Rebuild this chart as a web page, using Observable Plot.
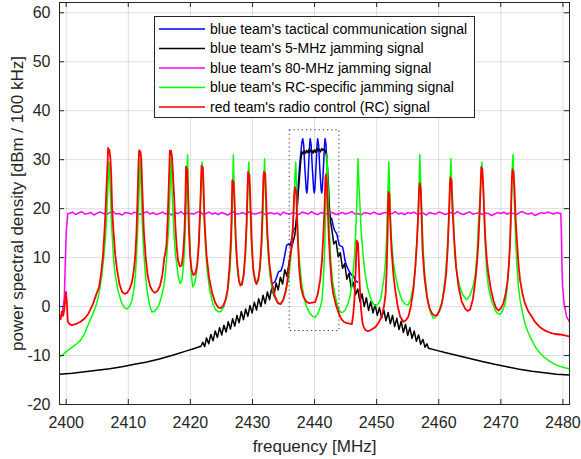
<!DOCTYPE html>
<html>
<head>
<meta charset="utf-8">
<script src="https://cdn.jsdelivr.net/npm/d3@7"></script>
<script src="https://cdn.jsdelivr.net/npm/@observablehq/plot@0.6"></script>
<style>
  html, body { margin: 0; padding: 0; background: white; }
</style>
</head>
<body>
<script>
// ---------- data (frequency MHz, PSD dBm/100kHz) ----------
const xTicks = [2400, 2410, 2420, 2430, 2440, 2450, 2460, 2470, 2480];
const yTicks = [-20, -10, 0, 10, 20, 30, 40, 50, 60];

const legendLabels = [
  "blue team's tactical communication signal",
  "blue team's 5-MHz jamming signal",
  "blue team's 80-MHz jamming signal",
  "blue team's RC-specific jamming signal",
  "red team's radio control (RC) signal"
];
const seriesColors = ["#0000ff", "#000000", "#ff00ff", "#00ff00", "#ff0000"];

const tacticalSignal = [[2433.3,4.8],[2433.6,5.0],[2433.9,6.0],[2434.2,7.1],[2434.6,7.3],[2434.9,8.5],[2435.2,10.5],[2435.5,12.5],[2435.8,12.8],[2436.1,12.4],[2436.4,14.5],[2436.6,15.8],[2436.9,16.0],[2437.1,18],[2437.35,24.4],[2437.6,29],[2437.8,31.5],[2437.95,33.5],[2438.1,34.3],[2438.25,33],[2438.45,28],[2438.65,24],[2438.75,23.2],[2438.85,24],[2439.05,29],[2439.2,33],[2439.3,34.3],[2439.45,33],[2439.65,28],[2439.85,24],[2439.95,23.2],[2440.05,24],[2440.25,29],[2440.4,33],[2440.5,34.3],[2440.65,33],[2440.85,28],[2441.05,24],[2441.15,23.2],[2441.25,24],[2441.45,29],[2441.6,33],[2441.7,34.3],[2441.85,33],[2442.0,28],[2442.15,23],[2442.3,20],[2442.5,18.3],[2442.75,18.0],[2443.0,16.5],[2443.2,15.6],[2443.6,14.8],[2443.8,13.5],[2444.0,12.5],[2444.5,12.2],[2444.7,11],[2444.9,9.4],[2445.2,8.2],[2445.5,7.4],[2446.0,6.4],[2446.3,6.2],[2446.5,5.4],[2446.9,5.0]];

const jam5Signal = [[2398.92,-13.8],[2401,-13.6],[2403,-13.3],[2405,-13.0],[2407,-12.7],[2409,-12.3],[2411,-11.8],[2413,-11.3],[2415,-10.7],[2417,-10.0],[2419,-9.2],[2420.5,-8.6],[2421.7,-8.1],
[2422.0,-7.3],[2422.3,-8.2],[2422.6,-6.4],[2422.95,-7.6],[2423.3,-5.7],[2423.65,-7.0],[2424.0,-5.0],[2424.35,-6.3],[2424.7,-4.3],[2425.05,-5.8],[2425.4,-3.8],[2425.75,-5.2],[2426.1,-3.1],[2426.45,-4.6],[2426.8,-2.5],[2427.15,-4.0],[2427.5,-1.8],[2427.85,-3.3],[2428.2,-1.0],[2428.55,-2.7],[2428.9,-0.5],[2429.25,-2.0],[2429.6,0.2],[2429.95,-1.3],[2430.3,0.9],[2430.65,-0.7],[2431.0,1.6],[2431.35,0.0],[2431.7,2.3],[2432.05,0.6],[2432.4,3.0],[2432.75,1.4],[2433.1,3.8],[2433.45,2.2],[2433.8,4.8],[2434.15,3.4],[2434.5,6.0],[2434.85,4.6],[2435.2,7.5],[2435.55,6.2],[2435.9,9.0],
[2436.2,11.5],[2436.5,13],[2436.8,14.5],[2437.05,17],[2437.3,22],[2437.55,26],[2437.75,29.5],[2437.95,31.6],
[2438.15,31.2],[2438.35,31.8],[2438.55,31.3],[2438.75,31.9],[2438.95,31.4],[2439.15,32.2],[2439.35,31.6],[2439.55,31.9],[2439.75,31.3],[2439.95,32.0],[2440.15,31.5],[2440.35,32.3],[2440.55,31.8],[2440.75,32.1],[2440.95,31.6],[2441.15,32.3],[2441.35,31.9],[2441.55,32.2],[2441.75,31.7],[2441.95,30.9],[2442.1,28],[2442.25,24.4],[2442.4,20],[2442.55,17.6],[2442.8,15.6],
[2443.1,12.8],[2443.45,13.4],[2443.8,10.2],[2444.15,11.0],[2444.5,7.8],[2444.85,8.8],[2445.2,5.6],[2445.55,6.8],[2445.9,3.8],[2446.25,5.0],[2446.6,2.4],[2446.95,3.6],[2447.3,1.0],[2447.65,2.6],[2448.0,0.0],[2448.35,1.8],[2448.7,-0.8],[2449.05,1.0],[2449.4,-1.3],[2449.75,0.4],[2450.1,-1.8],[2450.45,-0.2],[2450.8,-2.3],[2451.15,-0.7],[2451.5,-2.9],[2451.85,-1.2],[2452.2,-3.5],[2452.55,-1.8],[2452.9,-4.1],[2453.25,-2.4],[2453.6,-4.7],[2453.95,-3.0],[2454.3,-5.3],[2454.65,-3.6],[2455.0,-5.9],[2455.35,-4.3],[2455.7,-6.5],[2456.05,-5.0],[2456.4,-7.1],[2456.75,-5.8],[2457.1,-7.7],[2457.45,-6.7],[2457.8,-8.3],[2458.1,-7.6],[2458.35,-8.5],
[2459.5,-8.9],[2461,-9.4],[2463,-10.0],[2465,-10.6],[2467,-11.2],[2469,-11.8],[2471,-12.3],[2473,-12.8],[2475,-13.2],[2477,-13.5],[2479,-13.8],[2481.06,-14.0]];

// 80-MHz jammer: rising edge, flat noisy top sampled every 0.5 MHz from 2400.5 MHz, falling edge
const jam80Rise = [[2398.92,-2.5],[2399.4,-1.2],[2399.7,2],[2399.85,9],[2400.0,15],[2400.25,19.0]];
const jam80TopStart = 2400.5, jam80TopStep = 0.5;
const jam80Top = [19.0,19.3,18.8,19.1,19.4,18.9,19.0,19.2,18.7,19.1,
19.3,19.0,18.8,19.2,19.5,18.9,19.0,18.7,19.2,19.1,
18.9,19.3,19.0,18.8,19.1,19.4,18.9,19.2,18.8,19.0,
19.3,18.9,19.1,18.7,19.2,19.0,19.4,18.8,19.1,19.0,
18.9,19.2,19.5,18.8,19.0,19.3,18.9,19.1,18.8,19.2,
19.0,18.7,19.1,19.3,18.9,19.0,19.2,18.8,19.4,19.0,
18.9,19.1,19.3,18.8,19.0,19.2,18.9,19.1,18.7,19.3,
19.0,18.9,19.2,19.0,18.8,19.3,19.1,18.9,19.4,19.0,
18.8,19.2,19.0,18.9,19.3,19.1,18.8,19.0,19.2,18.9,
19.1,19.4,18.9,19.0,18.7,19.2,19.1,18.9,19.3,19.0,
18.8,19.1,19.2,18.9,19.0,19.4,18.9,19.1,18.8,19.2,
19.0,19.3,18.9,19.0,19.1,18.7,19.2,19.0,18.9,19.3,
19.1,18.8,19.0,19.2,18.9,19.4,19.0,18.8,19.1,19.3,
18.9,19.0,19.2,18.8,19.1,19.0,18.6,18.9,19.2,19.0,
19.3,18.9,19.1,19.0,18.8,19.2,19.4,19.0,18.9,19.1,
18.6,18.9,19.2,19.0,19.3,19.1,18.9,19.2,19.0];
const jam80Fall = [[2479.65,19.1],[2479.75,15],[2479.85,8],[2479.95,4],[2480.2,0.5],[2480.6,-2.1],[2481.06,-3.1]];

const rcJamSignal = [[2398.92,-10.3],[2399.5,-9.8],[2400.2,-9.0],[2401.0,-8.3],[2401.7,-7.6],[2402.3,-6.9],[2403.0,-5.4],[2403.6,-3.5],[2404.3,-1.5],[2404.9,0.6],[2405.3,2.8],[2405.7,6],[2406.0,9.5],[2406.3,13.5],[2406.5,18],[2406.65,22.4],[2406.8,27],[2406.9,29.5],[2407.0,27],[2407.15,22],[2407.3,17],[2407.6,10.1],[2407.9,6.3],[2408.4,3.0],[2408.9,0.8],[2409.4,-0.2],[2409.8,-0.5],[2410.2,0],[2410.6,1.3],[2410.9,3.5],[2411.15,6.5],[2411.35,11],[2411.55,17],[2411.75,24],[2411.9,30.2],[2412.05,25],[2412.2,19],[2412.4,13],[2412.7,7.4],[2413.0,3.5],[2413.4,0.5],[2413.8,-1.1],[2414.2,-1.0],[2414.6,-0.4],[2414.9,0.2],[2415.3,1.8],[2415.7,4],[2416.0,7],[2416.25,11.5],[2416.5,16],[2416.7,23],[2416.9,30.5],[2417.05,24],[2417.2,19],[2417.4,14],[2417.6,10.5],[2417.8,8.8],[2418.05,6],[2418.35,4.7],[2418.65,5.5],[2418.9,8.5],[2419.1,13],[2419.3,20],[2419.45,27],[2419.55,31.0],[2419.65,25],[2419.8,17],[2420.0,10],[2420.2,5.8],[2420.4,4.0],[2420.7,4.8],[2421.0,7],[2421.25,11],[2421.45,16],[2421.65,22],[2421.8,27],[2421.9,29.5],[2422.0,26],[2422.15,20],[2422.4,13],[2422.7,7.5],[2423.1,3.5],[2423.6,0.6],[2424.1,-0.7],[2424.6,-1.1],[2425.0,-0.9],[2425.4,0],[2425.8,1.8],[2426.1,4],[2426.4,8],[2426.6,13],[2426.75,20],[2426.85,27],[2426.92,31.0],[2427.0,27],[2427.15,19],[2427.35,12],[2427.6,7],[2427.9,4.7],[2428.2,4.5],[2428.5,6],[2428.8,9.5],[2429.0,14],[2429.2,21],[2429.3,26],[2429.4,29.5],[2429.5,26],[2429.7,18],[2429.9,11],[2430.2,6.8],[2430.6,5.0],[2430.9,5.6],[2431.2,7.5],[2431.45,12],[2431.65,18],[2431.8,24],[2431.95,30.2],[2432.05,26],[2432.2,19],[2432.45,12],[2432.8,6.5],[2433.2,3.5],[2433.7,1.5],[2434.2,0.7],[2434.6,0.6],[2435.0,1.6],[2435.4,3.5],[2435.8,5.4],[2436.1,9],[2436.35,13],[2436.55,17.5],[2436.75,24],[2436.85,27],[2436.97,29.5],[2437.1,24],[2437.25,17.6],[2437.45,11],[2437.7,7.4],[2438.0,4],[2438.4,1.3],[2438.75,-0.1],[2439.2,-1.3],[2439.7,-2.0],[2440.1,-2.2],[2440.5,-1.5],[2440.9,-0.2],[2441.2,1.3],[2441.4,5],[2441.6,10.8],[2441.75,17],[2441.9,24.4],[2442.0,31.2],[2442.1,27],[2442.25,21],[2442.4,15],[2442.6,9.4],[2442.9,5.2],[2443.3,2.3],[2443.7,0.2],[2444.1,-1.1],[2444.5,-1.2],[2444.9,-0.8],[2445.3,0.3],[2445.7,2.0],[2446.0,4.5],[2446.25,7.5],[2446.45,10.5],[2446.65,16],[2446.8,21],[2446.92,26],[2447.0,30.2],[2447.1,26],[2447.3,21],[2447.5,15.5],[2447.8,10.8],[2448.1,7],[2448.5,4],[2449.0,1.8],[2449.4,0.6],[2449.8,0.2],[2450.2,0.5],[2450.6,1.3],[2450.9,3.5],[2451.2,6],[2451.4,8.8],[2451.6,14],[2451.75,21],[2451.88,26],[2451.95,29.5],[2452.05,26],[2452.2,19],[2452.4,13.5],[2452.7,9],[2453.0,6.7],[2453.5,3.5],[2454.1,1.3],[2454.6,0.5],[2455.1,0.3],[2455.5,1.6],[2455.9,4.0],[2456.2,7.5],[2456.5,13.5],[2456.7,19],[2456.85,25],[2456.95,31.0],[2457.05,27],[2457.25,20.3],[2457.45,13],[2457.65,8.1],[2458.0,3.5],[2458.3,0.6],[2458.7,-1.3],[2459.15,-2.4],[2459.6,-2.0],[2460.2,-0.8],[2460.6,1.5],[2461.0,5.4],[2461.3,10],[2461.6,16.9],[2461.8,23],[2461.95,30.2],[2462.1,25],[2462.3,20.3],[2462.6,10.1],[2463.0,6.3],[2463.4,4.0],[2463.9,2.3],[2464.5,1.4],[2465.1,2.5],[2465.6,4.5],[2465.9,6.7],[2466.15,10.5],[2466.4,16.9],[2466.6,21],[2466.8,25.8],[2466.95,29.5],[2467.05,27],[2467.2,23.5],[2467.35,17],[2467.5,12.2],[2467.75,7],[2468.0,4.0],[2468.5,1.2],[2469.1,-0.8],[2469.5,-1.4],[2469.9,-1.6],[2470.3,-0.8],[2470.7,0.6],[2471.0,3.5],[2471.2,6.7],[2471.4,11],[2471.6,16.9],[2471.8,27.1],[2471.97,31.1],[2472.05,27],[2472.2,20.3],[2472.4,13.5],[2472.6,8.1],[2472.85,4],[2473.1,1.3],[2473.5,-1.3],[2473.9,-3.5],[2474.4,-5.3],[2475.0,-6.9],[2475.6,-8.3],[2476.3,-9.5],[2477.1,-10.5],[2477.9,-11.2],[2478.7,-11.8],[2479.5,-12.2],[2480.3,-12.5],[2481.06,-12.7]];

const rcSignal = [[2398.92,-2.2],[2399.1,-2.6],[2399.3,-1.0],[2399.5,-1.9],[2399.7,-0.5],[2399.85,1.5],[2399.95,3.0],[2400.1,1.0],[2400.25,-3.0],[2400.5,-3.5],[2400.9,-3.8],[2401.5,-3.6],[2402.3,-3.1],[2403.0,-2.4],[2403.6,-1.4],[2404.3,0.5],[2404.9,2.7],[2405.3,4.0],[2405.6,6.5],[2405.9,10],[2406.15,15],[2406.35,20],[2406.55,26],[2406.68,30],[2406.75,32.4],[2406.85,31.5],[2406.95,32.0],[2407.1,30.5],[2407.25,27],[2407.4,20],[2407.6,15.6],[2407.9,10.5],[2408.2,7.4],[2408.6,4.5],[2409.0,3.0],[2409.4,2.6],[2409.8,2.8],[2410.2,3.6],[2410.6,5.0],[2410.9,7.5],[2411.1,10.1],[2411.3,14.5],[2411.5,22.4],[2411.65,29.5],[2411.75,31.9],[2411.85,31.0],[2411.95,31.7],[2412.1,30.0],[2412.3,22.4],[2412.5,15.5],[2412.8,10.1],[2413.1,6.5],[2413.5,4.2],[2413.9,3.2],[2414.3,2.8],[2414.7,3.2],[2415.1,4.2],[2415.5,6.5],[2415.8,10.0],[2416.0,11.2],[2416.15,12.5],[2416.35,18],[2416.55,26],[2416.7,31.9],[2416.8,31.0],[2416.9,31.8],[2417.05,30.5],[2417.2,27],[2417.4,22],[2417.6,16],[2417.8,12.2],[2418.0,9.5],[2418.3,8.2],[2418.6,8.4],[2418.85,11],[2419.05,15.5],[2419.2,22],[2419.3,28.6],[2419.4,27.5],[2419.5,28.0],[2419.6,24],[2419.75,16],[2419.95,10.5],[2420.2,7.5],[2420.5,6.4],[2420.8,6.8],[2421.1,8.5],[2421.35,12.5],[2421.55,19],[2421.7,25],[2421.8,28.8],[2421.9,28.0],[2422.0,28.5],[2422.1,25.5],[2422.3,17],[2422.6,10.5],[2423.0,6],[2423.5,2.8],[2424.0,0.8],[2424.5,-0.2],[2424.9,-0.3],[2425.3,0.2],[2425.7,1.5],[2426.0,3.5],[2426.3,8],[2426.5,13],[2426.65,19],[2426.75,25.8],[2426.85,25.0],[2426.95,25.5],[2427.1,22],[2427.3,14],[2427.5,9.5],[2427.8,5.5],[2428.05,4.3],[2428.3,4.5],[2428.6,6.5],[2428.85,11],[2429.05,17],[2429.2,24],[2429.3,27.5],[2429.4,26.5],[2429.5,27.0],[2429.65,22],[2429.85,14],[2430.1,8],[2430.4,5.3],[2430.65,4.6],[2430.95,5.5],[2431.2,8],[2431.45,13],[2431.6,19],[2431.75,26],[2431.85,27.5],[2431.95,26.6],[2432.05,27.2],[2432.2,22],[2432.4,15],[2432.7,9],[2433.1,5],[2433.6,2.2],[2434.1,0.7],[2434.5,0.5],[2434.9,1.2],[2435.3,2.8],[2435.6,5],[2435.95,9],[2436.3,12.2],[2436.55,17],[2436.7,22.4],[2436.85,24.4],[2436.95,23.8],[2437.05,23.5],[2437.2,17],[2437.5,8.1],[2437.8,4],[2438.2,2.0],[2438.7,1.0],[2439.1,0.7],[2439.6,0.8],[2440.1,0.9],[2440.5,2.5],[2440.9,5.4],[2441.2,9.5],[2441.4,14.2],[2441.6,20],[2441.75,26.4],[2441.85,27.0],[2441.95,25.5],[2442.1,21],[2442.3,14],[2442.5,9.4],[2442.75,5],[2443.0,2.7],[2443.4,0.5],[2443.9,-1.4],[2444.3,-2.5],[2444.7,-3.1],[2445.2,-3.4],[2445.7,-3.5],[2446.0,-3.6],[2446.2,-2],[2446.4,1],[2446.55,5],[2446.7,10],[2446.8,13.5],[2446.9,12.6],[2447.0,13.0],[2447.1,10],[2447.25,5],[2447.45,0],[2447.7,-3.2],[2447.95,-4.3],[2448.2,-4.8],[2448.5,-5.0],[2448.9,-4.9],[2449.3,-4.6],[2449.8,-4.2],[2450.3,-3.3],[2450.8,-2.1],[2451.2,0.2],[2451.45,2.7],[2451.6,7],[2451.75,14],[2451.85,21],[2451.9,23.4],[2451.97,22.5],[2452.05,23.0],[2452.2,17],[2452.4,11.5],[2452.7,6.5],[2453.0,3.3],[2453.4,0],[2453.8,-2.1],[2454.3,-3.1],[2454.7,-2.8],[2455.1,-2.1],[2455.5,0],[2455.9,3.3],[2456.2,7.5],[2456.5,13.5],[2456.7,19],[2456.85,24.4],[2456.93,25.2],[2457.0,24.6],[2457.1,24.0],[2457.25,18],[2457.4,11.5],[2457.7,6],[2458.1,2.0],[2458.5,-0.3],[2458.9,-1.4],[2459.3,-1.8],[2459.7,-1.8],[2460.1,-0.8],[2460.5,0.6],[2460.9,3.5],[2461.2,6.7],[2461.45,12],[2461.65,19],[2461.8,25],[2461.87,26.4],[2461.95,25.3],[2462.05,25.8],[2462.2,20],[2462.5,13.5],[2462.8,8],[2463.2,4],[2463.7,1],[2464.25,-0.4],[2464.65,-0.9],[2465.05,-0.6],[2465.5,1.5],[2465.9,5.4],[2466.2,9.5],[2466.4,13.5],[2466.6,19.5],[2466.75,25],[2466.85,28.5],[2466.92,27.5],[2467.0,28.2],[2467.15,25],[2467.3,20],[2467.5,14],[2467.75,9.5],[2468.0,6.7],[2468.4,3.5],[2468.8,1.3],[2469.2,-0.2],[2469.6,-0.8],[2470.0,-0.4],[2470.4,0.6],[2470.8,2.8],[2471.1,5.4],[2471.35,9.5],[2471.5,13.5],[2471.65,20],[2471.78,26],[2471.88,28.0],[2471.95,27.0],[2472.05,27.6],[2472.2,24],[2472.4,17.5],[2472.6,13.5],[2472.85,8.5],[2473.1,5.4],[2473.5,2.5],[2473.9,0.6],[2474.4,-0.9],[2475.0,-2.1],[2475.6,-3.3],[2476.3,-4.2],[2477.1,-4.9],[2477.9,-5.3],[2478.7,-5.6],[2479.5,-5.7],[2480.3,-5.9],[2481.06,-6.1]];

// zoom box around the tactical band
const zoomBoxFreq = [2436, 2444];
const zoomBoxPsd = [-5, 36];

// ---------- build ----------
const jam80Signal = [
  ...jam80Rise,
  ...jam80Top.map((v, i) => [jam80TopStart + i * jam80TopStep, v]),
  ...jam80Fall
];
const seriesData = [tacticalSignal, jam5Signal, jam80Signal, rcJamSignal, rcSignal];

const W = 581, H = 459, ML = 59, MR = 12, MT = 2, MB = 55;
const innerW = W - ML - MR, innerH = H - MT - MB;
const axisColor = "#262626";
const font = "'Liberation Sans', Arial, Helvetica, sans-serif";

const lineMarks = seriesData.map((data, i) =>
  Plot.line(data, {x: d => d[0], y: d => d[1], stroke: seriesColors[i], strokeWidth: i === 4 ? 1.8 : 1.5, clip: true})
);

const plot = Plot.plot({
  width: W, height: H,
  marginLeft: ML, marginRight: MR, marginTop: MT, marginBottom: MB,
  style: {fontFamily: font, background: "white", color: axisColor},
  x: {domain: [2398.92, 2481.06]},
  y: {domain: [-20, 62.1]},
  marks: [
    Plot.gridX(xTicks, {stroke: axisColor, strokeOpacity: 0.15, strokeWidth: 1}),
    Plot.gridY(yTicks, {stroke: axisColor, strokeOpacity: 0.15, strokeWidth: 1}),
    ...lineMarks,
    Plot.rect([0], {x1: () => zoomBoxFreq[0], x2: () => zoomBoxFreq[1], y1: () => zoomBoxPsd[0], y2: () => zoomBoxPsd[1],
      fill: "none", stroke: "#333", strokeWidth: 1, strokeDasharray: "1.2,3"}),
    Plot.tickX(xTicks, {x: d => d, insetTop: innerH - 5, stroke: axisColor}),
    Plot.tickX(xTicks, {x: d => d, insetBottom: innerH - 5, stroke: axisColor}),
    Plot.tickY(yTicks, {y: d => d, insetLeft: innerW - 5, stroke: axisColor}),
    Plot.tickY(yTicks, {y: d => d, insetRight: innerW - 5, stroke: axisColor}),
    Plot.frame({stroke: axisColor, strokeWidth: 1}),
    Plot.axisX(xTicks, {tickSize: 0, tickPadding: 12, fontSize: 16, fill: axisColor, label: null, tickFormat: d => String(d)}),
    Plot.axisY(yTicks, {tickSize: 0, tickPadding: 9, fontSize: 16, fill: axisColor, label: null, tickFormat: d => String(d)}),
    Plot.text(["frequency [MHz]"], {text: d => d, frameAnchor: "bottom", dy: 42, textAnchor: "middle", lineAnchor: "middle", fontSize: 17, fill: axisColor}),
    Plot.text(["power spectral density [dBm / 100 kHz]"], {text: d => d, frameAnchor: "left", rotate: -90, dx: -42, textAnchor: "middle", lineAnchor: "middle", fontSize: 17, fill: axisColor})
  ]
});

document.body.appendChild(plot);

// legend inside the plot area (top centre)
const svg = d3.select(plot);
const lg = svg.append("g").attr("font-family", font).attr("font-size", 14).attr("text-anchor", "start");
lg.append("rect").attr("x", 154.5).attr("y", 16.5).attr("width", 320).attr("height", 101)
  .attr("fill", "white").attr("stroke", axisColor).attr("stroke-width", 1);
legendLabels.forEach((label, i) => {
  const y = 29 + i * 19.5;
  lg.append("line").attr("x1", 159).attr("x2", 205).attr("y1", y).attr("y2", y)
    .attr("stroke", seriesColors[i]).attr("stroke-width", 1.5);
  lg.append("text").attr("x", 210).attr("y", y).attr("dy", "0.35em").attr("text-anchor", "start").attr("fill", "#000").text(label);
});
</script>
</body>
</html>
